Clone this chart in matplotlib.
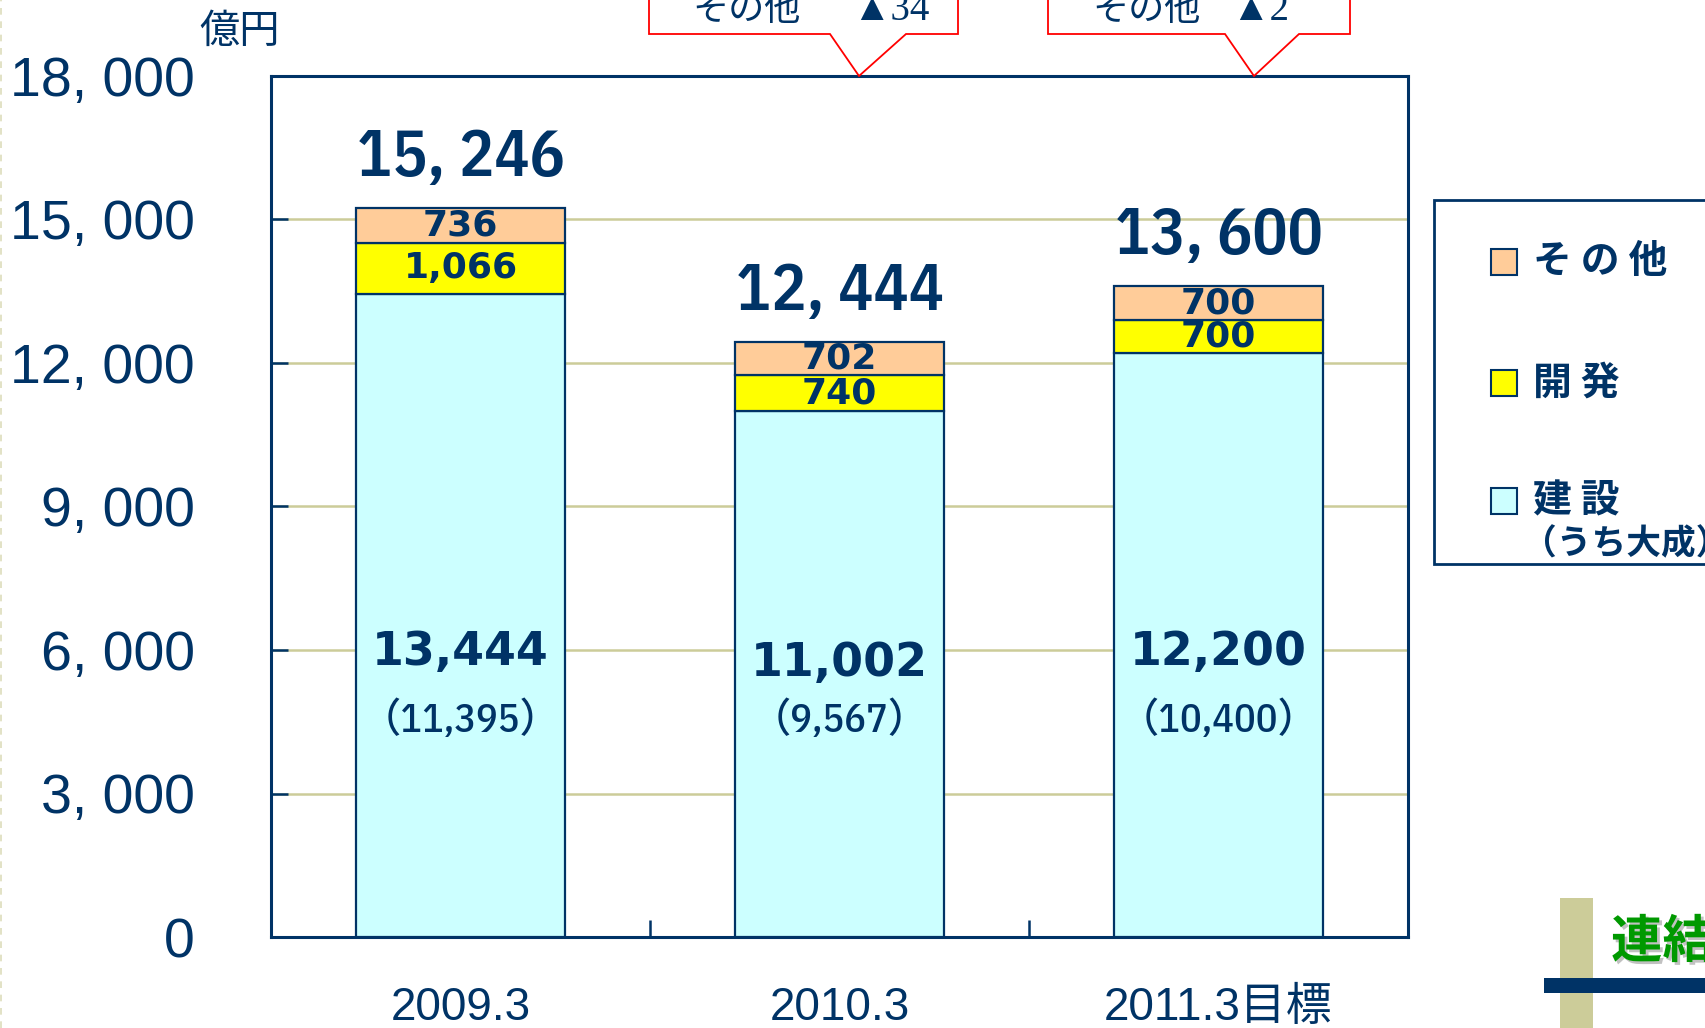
import matplotlib
matplotlib.use('Agg')
import matplotlib.pyplot as plt
import matplotlib.patheffects as pe
from matplotlib.patches import Rectangle, Polygon
from matplotlib.lines import Line2D
import matplotlib.transforms as mtransforms

# data
categories = ['2009.3', '2010.3', '2011.3目標']
construction = [13444, 11002, 12200]
taisei = [11395, 9567, 10400]
development = [1066, 740, 700]
other = [736, 702, 700]
totals = [15246, 12444, 13600]
other_change = ['▲34', '▲2']
y_ticks = [0, 3000, 6000, 9000, 12000, 15000, 18000]
legend_labels = ['その他', '開発', '建設']

NAVY = '#003366'
KHAKI = '#CCCC99'
C_CON = '#CCFFFF'
C_DEV = '#FFFF00'
C_OTH = '#FFCC99'

W, H = 1705, 1028
def fx(px):
    return px / W
def fy(py):
    return 1 - py / H

narrow = ['IBM Plex Sans Condensed', 'PT Sans Narrow', 'Noto Sans CJK JP', 'DejaVu Sans']
sans = ['Liberation Sans', 'Noto Sans CJK JP', 'DejaVu Sans']
cjk = ['Noto Sans CJK JP', 'DejaVu Sans']

fig = plt.figure(figsize=(W / 100, H / 100), dpi=100)
ax = fig.add_axes([fx(271), fy(937), (1408 - 271) / W, (937 - 76) / H])

x = list(range(len(categories)))
bw = 0.554
ax.bar(x, construction, bw, color=C_CON, edgecolor=NAVY, lw=1.6, zorder=3)
ax.bar(x, development, bw, bottom=construction, color=C_DEV, edgecolor=NAVY, lw=1.6, zorder=3)
bot3 = [a + b for a, b in zip(construction, development)]
ax.bar(x, other, bw, bottom=bot3, color=C_OTH, edgecolor=NAVY, lw=1.6, zorder=3)

ax.set_xlim(-0.5, 2.5)
ax.set_ylim(0, 18000)
ax.set_yticks(y_ticks)
ax.set_yticklabels([f'{v:,}'.replace(',', ', ') for v in y_ticks],
                   fontfamily=sans, fontsize=40, color=NAVY)
ax.yaxis.grid(True, color=KHAKI, lw=1.8, zorder=0)
ax.set_axisbelow(True)
ax.tick_params(axis='y', direction='in', length=12, width=1.8, color=NAVY, pad=55)

ax.set_xticks(x)
ax.set_xticks([0.5, 1.5], minor=True)
ax.set_xticklabels(categories, fontsize=33, color=NAVY)
for lab in ax.get_xticklabels():
    lab.set_fontfamily(sans)
ax.tick_params(axis='x', which='major', length=0, pad=35)
ax.tick_params(axis='x', which='minor', direction='in', length=12, width=1.8, color=NAVY)
for s in ax.spines.values():
    s.set_color(NAVY)
    s.set_linewidth(2.2)

# segment labels and totals
for i in x:
    ax.text(i, construction[i] + development[i] / 2, f'{development[i]:,}', ha='center', va='center',
            fontsize=26, fontweight='bold', color=NAVY, zorder=5)
    ax.text(i, bot3[i] + other[i] / 2, f'{other[i]:,}', ha='center', va='center',
            fontsize=26, fontweight='bold', color=NAVY, zorder=5)
    ax.annotate(f'{totals[i]:,}'.replace(',', ', '), (i, totals[i]), xytext=(0, 36),
                textcoords='offset points', ha='center', va='center', fontsize=47,
                fontfamily=narrow, fontweight='semibold', color=NAVY)

trans = mtransforms.blended_transform_factory(ax.transData, ax.transAxes)
big_y = [0.331, 0.318, 0.331]
for i in x:
    ax.text(i, big_y[i], f'{construction[i]:,}', transform=trans, ha='center', va='center',
            fontsize=33, fontweight='bold', color=NAVY, zorder=5)
    ax.text(i, 0.252, f'（{taisei[i]:,}）', transform=trans, ha='center', va='center',
            fontsize=29, fontfamily=narrow, fontweight='medium', color=NAVY, zorder=5)

# unit
fig.text(fx(240), fy(31), '億円', ha='center', va='center', fontsize=29,
         fontfamily=cjk, color=NAVY)

# callouts
boxes = [(649, 958, 830, 859, 906, 747, 891), (1048, 1350, 1225, 1254, 1299, 1147, 1260)]
for (l, r, p1, tip, p2, tx1, tx2), lab in zip(boxes, other_change):
    pts = [(l, -10), (l, 34), (p1, 34), (tip, 76), (p2, 34), (r, 34), (r, -10)]
    poly = Polygon([(fx(a), fy(b)) for a, b in pts], closed=True, transform=fig.transFigure,
                   facecolor='white', edgecolor='#FF0000', lw=1.3, zorder=10)
    fig.add_artist(poly)
    fig.text(fx(tx1), fy(20), 'その他', ha='center', va='baseline', fontsize=26,
             fontfamily=cjk, color=NAVY, zorder=11)
    fig.text(fx(tx2), fy(20), lab, ha='center', va='baseline', fontsize=28,
             fontfamily=['Liberation Serif', 'Noto Sans CJK JP'], color=NAVY, zorder=11)

# legend
fig.add_artist(Rectangle((fx(1434), fy(564)), (1750 - 1434) / W, (564 - 200) / H,
                         transform=fig.transFigure, facecolor='white', edgecolor=NAVY, lw=2))
leg_y = [262, 383, 501]
for yy, lab, c in zip(leg_y, legend_labels, [C_OTH, C_DEV, C_CON]):
    fig.add_artist(Rectangle((fx(1491), fy(yy + 13)), 26 / W, 26 / H, transform=fig.transFigure,
                             facecolor=c, edgecolor=NAVY, lw=1.5))
    fig.text(fx(1533), fy(yy), ' '.join(lab), ha='left', va='center', fontsize=28, fontweight='bold',
             fontfamily=cjk, color=NAVY)
fig.text(fx(1522), fy(544), '（うち大成）', ha='left', va='center', fontsize=25, fontweight='bold',
         fontfamily=cjk, color=NAVY)

# bottom-right decoration
fig.add_artist(Rectangle((fx(1560), 0), 33 / W, (1028 - 898) / H, transform=fig.transFigure,
                         facecolor=KHAKI, edgecolor='none'))
fig.add_artist(Rectangle((fx(1544), fy(993)), (1705 - 1544) / W, 15 / H, transform=fig.transFigure,
                         facecolor=NAVY, edgecolor='none'))
fig.text(fx(1611), fy(942), '連結', ha='left', va='center', fontsize=37, fontweight='bold',
         fontfamily=cjk, color='#009900',
         path_effects=[pe.withSimplePatchShadow(offset=(2, -2), shadow_rgbFace='#999999', alpha=0.6)])

# faint dashed line at left edge
fig.add_artist(Line2D([fx(1), fx(1)], [0, 1], transform=fig.transFigure, color='#DDDDBB',
                      lw=1.2, ls=(0, (4, 4))))

fig.savefig('out.png', dpi=100)
